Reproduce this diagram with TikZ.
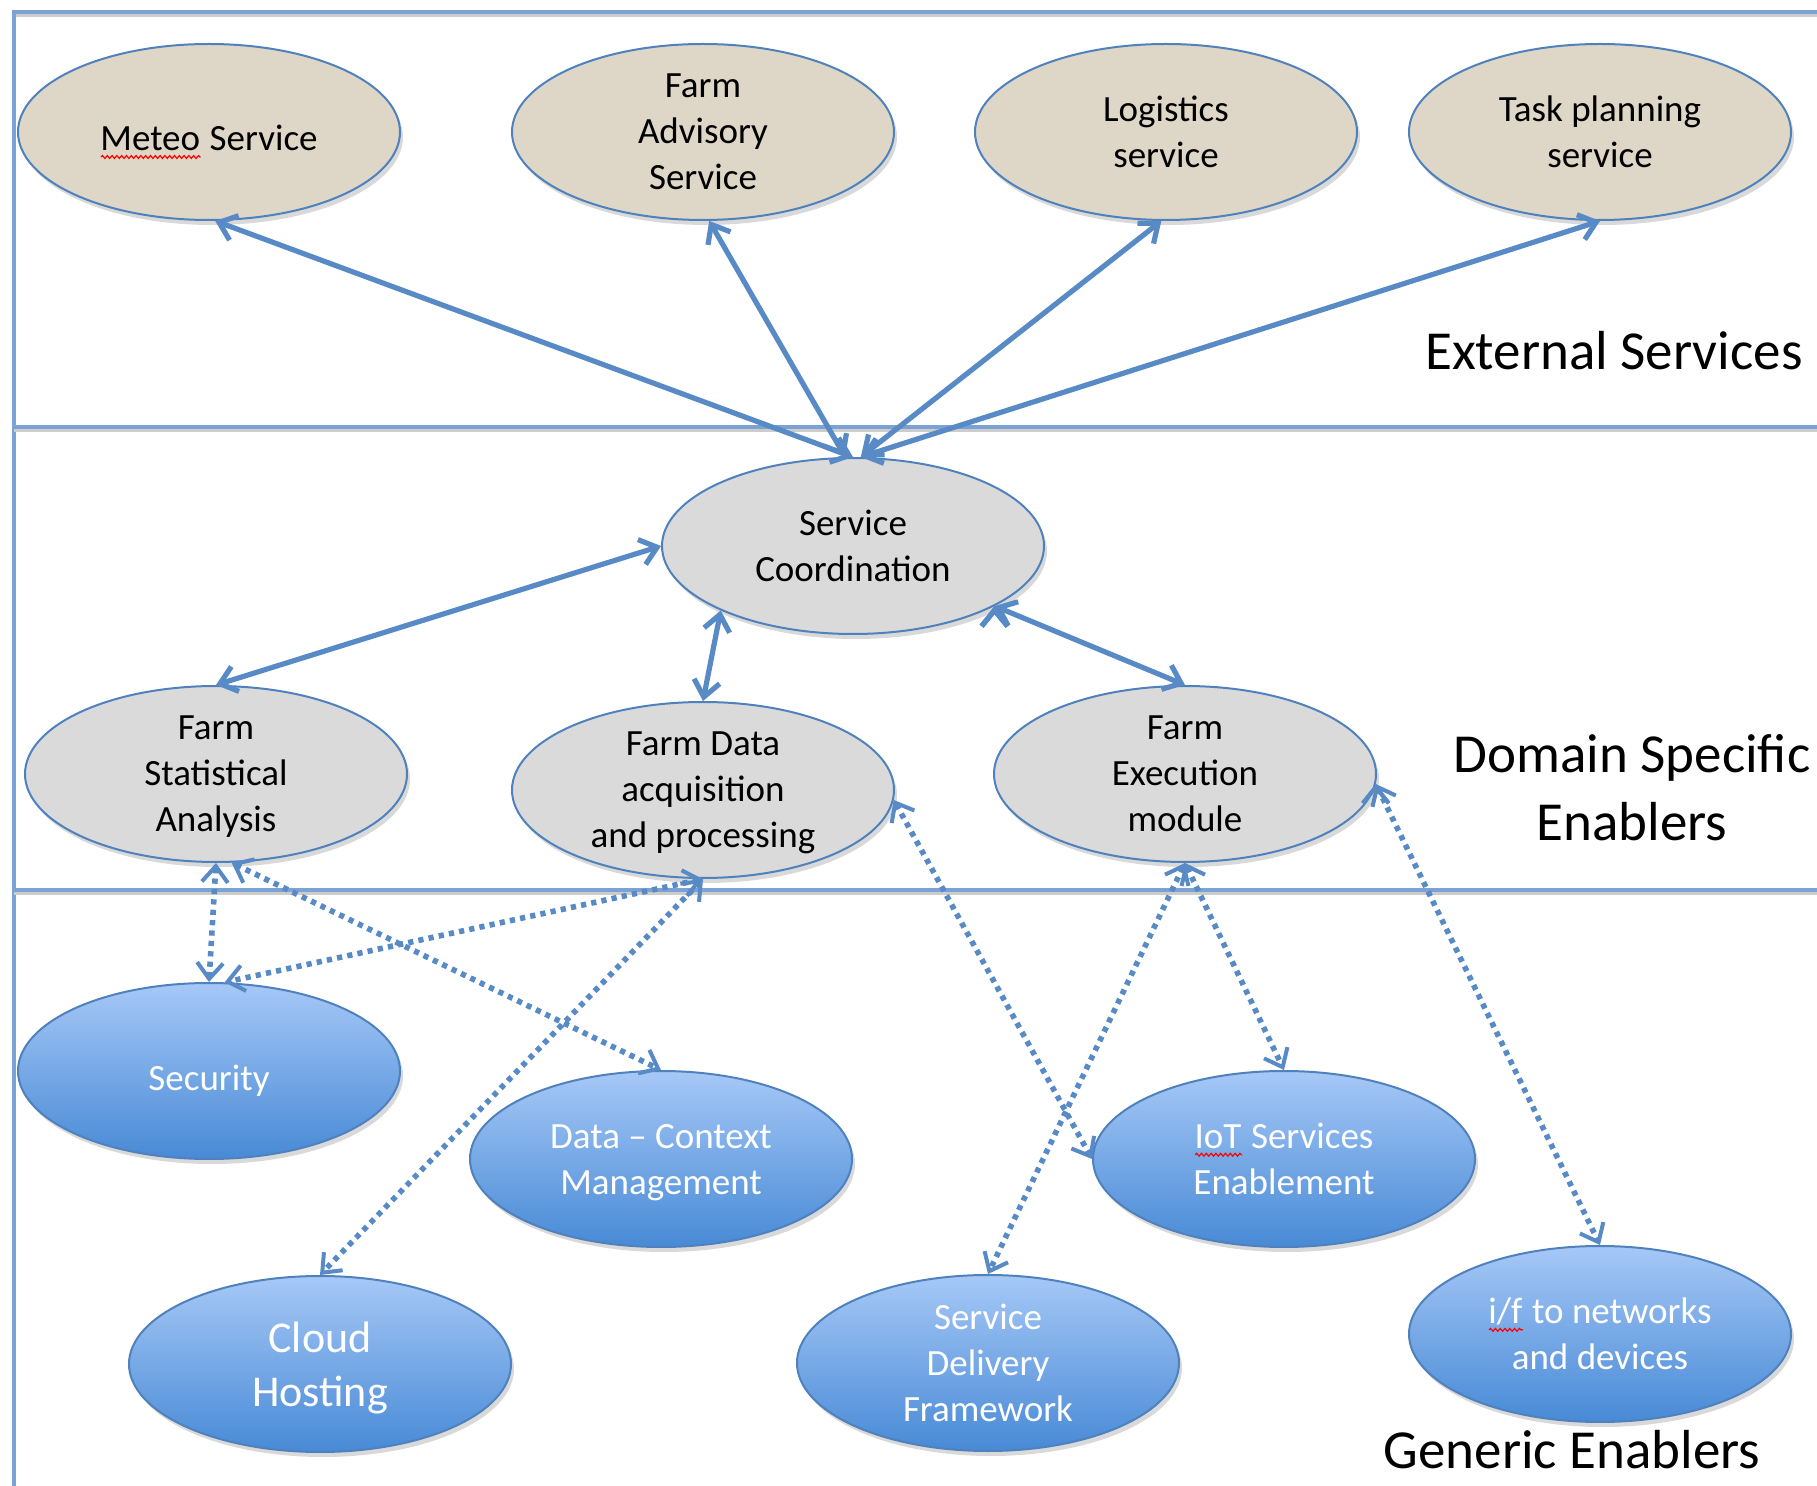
\documentclass[tikz,border=0pt]{standalone}
\usepackage{fontspec}
\setmainfont{Carlito}
\usetikzlibrary{shapes.geometric,arrows.meta,shadows,decorations.pathmorphing}

\definecolor{frameblue}{RGB}{122,162,212}
\definecolor{linkblue}{RGB}{88,138,198}
\definecolor{rim}{RGB}{79,129,189}
\definecolor{sand}{RGB}{222,214,198}
\definecolor{pale}{RGB}{218,218,218}
\definecolor{skytop}{RGB}{166,200,246}
\definecolor{skybot}{RGB}{72,138,214}

% red spell-check squiggle under a word
\newsavebox{\wordbox}
\newcommand{\spellmark}[1]{\sbox{\wordbox}{#1}\rlap{\usebox{\wordbox}}%
  \tikz[baseline=0pt]\draw[red, line width=0.6pt, decorate,
    decoration={snake, amplitude=0.7pt, segment length=2.4pt}] (0pt,-3pt) -- (\wd\wordbox,-3pt);}

\tikzstyle{blob}=[ellipse, draw=rim, line width=1pt, minimum width=191pt, minimum height=88pt,
  inner sep=0pt, align=center, text depth=0pt, font=\fontsize{18.5pt}{23pt}\selectfont,
  execute at begin node={\rule{0pt}{19pt}},
  drop shadow={opacity=0.3, shadow xshift=1.5pt, shadow yshift=-2.5pt}]
\tikzstyle{extsrv}=[blob, fill=sand]
\tikzstyle{dse}=[blob, fill=pale]
\tikzstyle{gen}=[blob, top color=skytop, bottom color=skybot, text=white]
\tikzstyle{layer}=[font=\fontsize{27.5pt}{34pt}\selectfont, align=center, inner sep=0pt]
\tikzstyle{frameline}=[draw=frameblue, line width=2pt,
  preaction={draw=black!20, line width=2pt, transform canvas={yshift=-1.5pt}}]
\tikzstyle{solidlink}=[draw=linkblue, line width=2.6pt,
  {Straight Barb[length=8pt,width=13pt]}-{Straight Barb[length=8pt,width=13pt]}]
\tikzstyle{dotlink}=[draw=linkblue, line width=2.8pt, dash pattern=on 2.6pt off 2.6pt,
  {Straight Barb[length=8pt,width=13pt,line width=2pt]}-{Straight Barb[length=8pt,width=13pt,line width=2pt]}]

\newcommand{\extsrv}{\node[extsrv]}
\newcommand{\dse}{\node[dse]}
\newcommand{\gen}{\node[gen]}

\begin{document}
\begin{tikzpicture}[x=0.5pt,y=-0.5pt]
    \useasboundingbox (0,0) rectangle (1817,1486);

    % layer frame
    \draw[frameline] (1830,12) -- (14,12) -- (14,1500);
    \draw[frameline] (14,427) -- (1830,427);
    \draw[frameline] (14,890) -- (1830,890);

    % external services
    \extsrv (meteo) at (209,132) {\spellmark{Meteo} Service};
    \extsrv (advisory) at (703,132) {Farm\\Advisory\\Service};
    \extsrv (logistics) at (1166,132) {Logistics\\service};
    \extsrv (tasks) at (1600,132) {Task planning\\service};

    % domain specific enablers
    \dse (coord) at (853,546) {Service\\Coordination};
    \dse (stats) at (216,774) {Farm\\Statistical\\Analysis};
    \dse (acq) at (703,790) {Farm Data\\acquisition\\and processing};
    \dse (exec) at (1185,774) {Farm\\Execution\\module};

    % generic enablers
    \gen (security) at (209,1071) {Security};
    \gen (context) at (661,1159) {Data -- Context\\Management};
    \gen (iot) at (1284,1159) {\spellmark{IoT} Services\\Enablement};
    \gen[font=\fontsize{22pt}{27pt}\selectfont] (cloud) at (320,1364) {Cloud\\Hosting};
    \gen (delivery) at (988,1363) {Service\\Delivery\\Framework};
    \gen (netif) at (1600,1334) {\spellmark{i/f} to networks\\and devices};

    % layer names
    \node[layer, anchor=east] (extname) at (1803,351) {External Services};
    \node[layer] (dsename) at (1632,788) {Domain Specific\\Enablers};
    \node[layer] (genname) at (1572,1450) {Generic Enablers};

    \path[solidlink]
        (meteo.-86) edge (coord.north)
        (advisory.-86) edge (coord.95)
        (logistics.-93) edge (coord.85)
        (tasks.south) edge (coord.85)
        (coord.west) edge (stats.north)
        (coord.-154) edge (acq.north)
        (coord.-23) edge (exec.north)
    ;
    \path[dotlink]
        (stats.south) edge (security.north)
        (stats.-80) edge (context.north)
        (acq.south) edge (security.80)
        (acq.south) edge (cloud.north)
        (acq.-3) edge (iot.west)
        (exec.south) edge (iot.north)
        (exec.south) edge (delivery.north)
        (exec.-3) edge (netif.north)
    ;
\end{tikzpicture}
\end{document}
